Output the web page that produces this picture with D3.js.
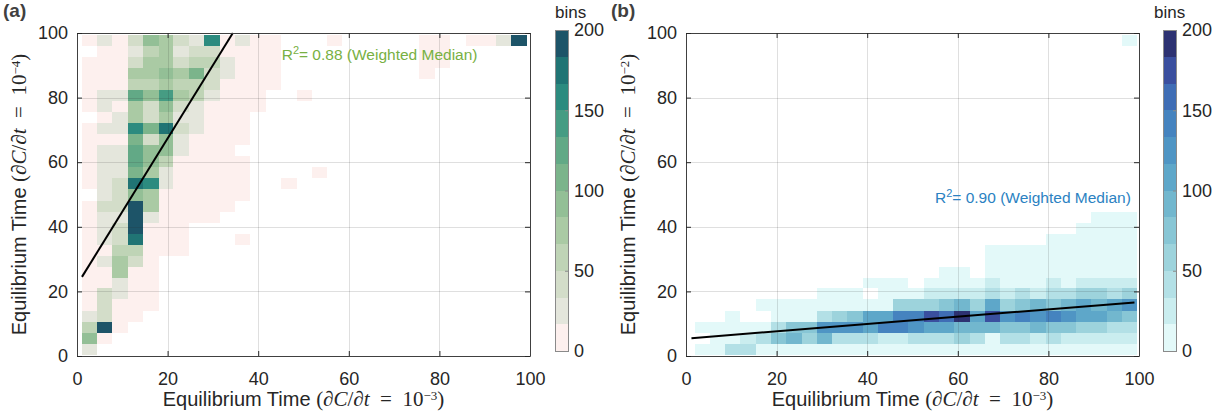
<!DOCTYPE html>
<html>
<head>
<meta charset="utf-8">
<script src="https://cdn.jsdelivr.net/npm/d3@7"></script>
<style>
  body { margin: 0; background: #fff; }
  svg { display: block; font-family: "Liberation Sans", Arial, sans-serif; }
</style>
</head>
<body>
<svg id="chart" width="1224" height="416"></svg>
<script>
// ---------------- data ----------------
const xTicks = [0, 20, 40, 60, 80, 100];
const yTicks = [0, 20, 40, 60, 80, 100];
const cbTicks = [0, 50, 100, 150, 200];

// bin edges (29 bins per axis)
const xEdgesA = [1.0, 4.4, 7.8, 11.2, 14.6, 18.0, 21.3, 24.7, 28.1, 31.5, 34.9, 38.3, 41.7, 45.1, 48.5,
  51.9, 55.2, 58.6, 62.0, 65.4, 68.8, 72.2, 75.6, 79.0, 82.4, 85.8, 89.1, 92.5, 95.9, 99.3];
const xEdgesB = [1.9, 5.3, 8.6, 12.0, 15.4, 18.8, 22.1, 25.5, 28.9, 32.2, 35.6, 39.0, 42.3, 45.7, 49.1,
  52.5, 55.8, 59.2, 62.6, 65.9, 69.3, 72.7, 76.0, 79.4, 82.8, 86.2, 89.5, 92.9, 96.3, 99.6];
const yEdges = [0.4, 3.8, 7.2, 10.6, 14.0, 17.5, 20.9, 24.3, 27.7, 31.1, 34.5, 37.9, 41.3, 44.7, 48.1,
  51.6, 55.0, 58.4, 61.8, 65.2, 68.6, 72.0, 75.4, 78.8, 82.2, 85.7, 89.1, 92.5, 95.9, 99.3];

// counts per bin, rows from the lowest y bin upward, missing trailing bins are empty
const countsA = [
  [27],
  [94, 9],
  [60, 195, 8],
  [26, 42, 10, 7],
  [8, 44, 12, 9, 5],
  [6, 42, 27, 10, 6],
  [7, 10, 26, 9, 5],
  [8, 12, 76, 11, 6],
  [9, 26, 78, 42, 8],
  [8, 13, 60, 58, 10, 6, 4],
  [10, 25, 44, 180, 12, 8, 5, 0, 0, 0, 5],
  [9, 27, 42, 194, 14, 10, 6],
  [11, 26, 28, 192, 27, 13, 8, 5, 4],
  [10, 44, 42, 196, 78, 12, 9, 6, 5, 4],
  [0, 27, 42, 95, 77, 14, 10, 8, 5, 5, 4],
  [9, 28, 44, 178, 162, 26, 13, 9, 6, 5, 4, 0, 0, 5],
  [8, 25, 26, 112, 78, 28, 15, 10, 7, 5, 4, 0, 0, 0, 0, 5],
  [9, 27, 28, 126, 95, 60, 14, 12, 8, 5, 4],
  [10, 26, 25, 128, 96, 92, 26, 14, 9, 6],
  [8, 11, 12, 110, 42, 94, 28, 13, 10, 7, 5],
  [7, 26, 27, 162, 110, 180, 44, 25, 12, 9, 6],
  [0, 12, 28, 76, 40, 80, 26, 24, 10, 8, 5],
  [9, 25, 10, 78, 44, 96, 42, 26, 12, 8, 6, 5],
  [8, 27, 26, 128, 94, 145, 78, 60, 25, 10, 7, 6, 0, 0, 5],
  [6, 10, 8, 60, 62, 80, 58, 60, 40, 12, 8, 6, 4],
  [7, 8, 9, 78, 76, 95, 79, 110, 42, 24, 9, 6, 5, 0, 0, 0, 0, 0, 0, 0, 0, 0, 5],
  [6, 9, 7, 43, 80, 76, 40, 60, 58, 28, 8, 6, 4, 0, 0, 0, 0, 0, 0, 0, 0, 0, 4, 5],
  [0, 8, 6, 26, 62, 78, 25, 44, 46, 10, 7, 5, 4, 0, 0, 0, 0, 0, 0, 0, 0, 0, 5, 6],
  [5, 24, 6, 40, 95, 80, 38, 27, 160, 8, 26, 6, 5, 0, 0, 0, 5, 0, 0, 0, 0, 0, 6, 7, 0, 5, 6, 30, 195]
];

const countsB = [
  [8, 8, 42, 42, 8, 8, 8, 8, 8, 8, 8, 8, 8, 8, 8, 8, 8, 8, 8, 8, 8, 8, 8, 8, 8, 8, 8, 8, 8],
  [0, 6, 8, 25, 42, 75, 92, 58, 92, 42, 42, 42, 25, 25, 42, 42, 42, 58, 42, 8, 42, 42, 25, 42, 25, 25, 25, 25, 25],
  [6, 8, 8, 8, 8, 42, 75, 75, 125, 125, 125, 108, 142, 142, 125, 108, 108, 92, 92, 92, 75, 75, 92, 75, 75, 58, 58, 42, 42],
  [0, 0, 8, 0, 0, 8, 8, 8, 42, 58, 75, 108, 108, 142, 142, 175, 158, 192, 108, 175, 125, 142, 125, 142, 125, 108, 108, 92, 75],
  [0, 0, 0, 0, 8, 8, 8, 8, 8, 8, 8, 8, 8, 58, 58, 58, 75, 92, 58, 108, 58, 75, 92, 75, 92, 108, 92, 108, 125],
  [0, 0, 0, 0, 0, 0, 0, 0, 8, 8, 8, 0, 8, 8, 8, 25, 25, 25, 25, 42, 25, 42, 25, 42, 42, 58, 58, 42, 58],
  [0, 0, 0, 0, 0, 0, 0, 0, 0, 0, 0, 8, 8, 8, 0, 8, 8, 8, 8, 25, 8, 8, 8, 25, 8, 25, 25, 25, 25],
  [0, 0, 0, 0, 0, 0, 0, 0, 0, 0, 0, 0, 0, 0, 0, 0, 8, 8, 0, 8, 8, 8, 8, 8, 8, 8, 8, 8, 8],
  [0, 0, 0, 0, 0, 0, 0, 0, 0, 0, 0, 0, 0, 0, 0, 0, 0, 0, 0, 8, 8, 8, 8, 8, 8, 8, 8, 8, 8],
  [0, 0, 0, 0, 0, 0, 0, 0, 0, 0, 0, 0, 0, 0, 0, 0, 0, 0, 0, 8, 8, 8, 8, 8, 8, 8, 8, 8, 8],
  [0, 0, 0, 0, 0, 0, 0, 0, 0, 0, 0, 0, 0, 0, 0, 0, 0, 0, 0, 0, 0, 0, 0, 8, 8, 8, 8, 8, 8],
  [0, 0, 0, 0, 0, 0, 0, 0, 0, 0, 0, 0, 0, 0, 0, 0, 0, 0, 0, 0, 0, 0, 0, 0, 0, 8, 8, 8, 8],
  [0, 0, 0, 0, 0, 0, 0, 0, 0, 0, 0, 0, 0, 0, 0, 0, 0, 0, 0, 0, 0, 0, 0, 0, 0, 0, 8, 8, 8],
  [], [], [], [], [], [], [], [], [], [], [], [], [], [], [],
  [0, 0, 0, 0, 0, 0, 0, 0, 0, 0, 0, 0, 0, 0, 0, 0, 0, 0, 0, 0, 0, 0, 0, 0, 0, 0, 0, 0, 8]
];

// weighted median fit lines, [x, y] end points
const fitA = [[1.1, 24.5], [34.4, 100]];
const fitB = [[1.2, 5.5], [99.0, 16.6]];

const r2A = "0.88";
const r2B = "0.90";

// 12-step colormaps, low to high
const colorsA = ["#fdf0ee", "#e4e6dc", "#d3ddc9", "#bfd4b6", "#aacaa4", "#93bf96",
  "#7bb48b", "#62a986", "#469c83", "#2c8b7f", "#207474", "#1d5468"];
const colorsB = ["#e3f9f9", "#caedef", "#b3e0e6", "#9dd3dc", "#88c6d5", "#72b7ce",
  "#5ea7c9", "#4f95c4", "#4583bf", "#3f6db5", "#3a4f9f", "#2d3272"];

// ---------------- drawing ----------------
const svg = d3.select("#chart");
const W = 453, H = 323;
const ink = "#262626";

function axisLabel(text, exp) {
  text.append("tspan").text("Equilibrium Time ");
  const m = text.append("tspan")
    .attr("font-family", "'Liberation Serif', 'DejaVu Serif', serif").attr("font-size", 21);
  m.append("tspan").text("(\u2202");
  m.append("tspan").attr("font-style", "italic").text("C");
  m.append("tspan").text("/\u2202");
  m.append("tspan").attr("font-style", "italic").text("t");
  m.append("tspan").text("\u2002=\u200210");
  m.append("tspan").attr("font-size", 13).attr("dy", -6).text(exp);
  m.append("tspan").attr("dy", 6).text(")");
}

function drawPanel(p) {
  const g = svg.append("g").attr("transform", `translate(${p.left},${p.top})`);
  const x = d3.scaleLinear().domain([0, 100]).range([0, W]);
  const y = d3.scaleLinear().domain([0, 100]).range([H, 0]);
  const color = d3.scaleQuantize().domain([0, 200]).range(p.colors);

  const cells = [];
  p.counts.forEach((row, j) => row.forEach((v, i) => { if (v > 0) cells.push({ i, j, v }); }));

  g.append("g").selectAll("rect").data(cells).join("rect")
    .attr("x", d => x(p.xEdges[d.i]))
    .attr("y", d => y(yEdges[d.j + 1]))
    .attr("width", d => x(p.xEdges[d.i + 1]) - x(p.xEdges[d.i]))
    .attr("height", d => y(yEdges[d.j]) - y(yEdges[d.j + 1]))
    .attr("fill", d => color(d.v))
    .attr("shape-rendering", "crispEdges");

  // grid (drawn on top like MATLAB's layer=top)
  const grid = g.append("g").attr("stroke", "rgba(38,38,38,0.15)").attr("stroke-width", 1);
  grid.selectAll("line.gx").data(xTicks.slice(1, -1)).join("line")
    .attr("x1", d => Math.round(x(d)) + 0.5).attr("x2", d => Math.round(x(d)) + 0.5)
    .attr("y1", 0).attr("y2", H);
  grid.selectAll("line.gy").data(yTicks.slice(1, -1)).join("line")
    .attr("y1", d => Math.round(y(d)) + 0.5).attr("y2", d => Math.round(y(d)) + 0.5)
    .attr("x1", 0).attr("x2", W);

  // fit line
  g.append("path").datum(p.fit)
    .attr("d", d3.line().x(d => x(d[0])).y(d => y(d[1])))
    .attr("fill", "none").attr("stroke", "#000").attr("stroke-width", 2);

  // axes with inward ticks on all sides
  const styleAxis = a => {
    a.attr("font-family", null).attr("font-size", 18).attr("color", ink);
    a.select(".domain").attr("stroke", "#404040");
  };
  g.append("g").attr("transform", `translate(0,${H})`)
    .call(d3.axisBottom(x).tickValues(xTicks).tickSize(-5).tickSizeOuter(0).tickPadding(16))
    .call(styleAxis);
  g.append("g")
    .call(d3.axisTop(x).tickValues(xTicks).tickSize(-5).tickSizeOuter(0).tickFormat(""))
    .call(styleAxis);
  g.append("g")
    .call(d3.axisLeft(y).tickValues(yTicks).tickSize(-5).tickSizeOuter(0).tickPadding(9))
    .call(styleAxis);
  g.append("g").attr("transform", `translate(${W},0)`)
    .call(d3.axisRight(y).tickValues(yTicks).tickSize(-5).tickSizeOuter(0).tickFormat(""))
    .call(styleAxis);

  // R^2 annotation
  const t = g.append("text")
    .attr("x", p.r2x).attr("y", p.r2y)
    .attr("font-size", 15.5).attr("fill", p.r2color);
  t.append("tspan").text("R");
  t.append("tspan").attr("font-size", 11).attr("dy", -6).text("2");
  t.append("tspan").attr("dy", 6).text(`= ${p.r2} (Weighted Median)`);

  // axis titles
  g.append("text")
    .attr("x", W / 2).attr("y", H + 50)
    .attr("text-anchor", "middle").attr("font-size", 20).attr("fill", ink)
    .call(axisLabel, "\u22123");
  g.append("text")
    .attr("transform", `translate(-51,${H / 2}) rotate(-90)`)
    .attr("text-anchor", "middle").attr("font-size", 20).attr("fill", ink)
    .call(axisLabel, p.yExp);

  // panel letter
  svg.append("text")
    .attr("x", p.letterX).attr("y", 17)
    .attr("font-size", 19).attr("font-weight", "bold").attr("fill", "#404040")
    .text(p.letter);
}

function drawColorbar(c) {
  const g = svg.append("g").attr("transform", `translate(${c.x},0)`);
  const yc = d3.scaleLinear().domain([0, 200]).range([c.bottom, c.top]);
  const step = 200 / c.colors.length;
  g.selectAll("rect.band").data(c.colors).join("rect")
    .attr("x", 0).attr("width", 13)
    .attr("y", (d, i) => yc((i + 1) * step))
    .attr("height", (d, i) => yc(i * step) - yc((i + 1) * step))
    .attr("fill", d => d)
    .attr("shape-rendering", "crispEdges");
  g.append("rect")
    .attr("x", 0.5).attr("y", c.top + 0.5).attr("width", 13).attr("height", c.bottom - c.top)
    .attr("fill", "none").attr("stroke", "#8a8a8a");
  g.append("g").attr("transform", "translate(13,0)")
    .call(d3.axisRight(yc).tickValues(cbTicks).tickSize(-3).tickSizeOuter(0).tickPadding(6))
    .call(a => {
      a.attr("font-family", null).attr("font-size", 18).attr("color", ink);
      a.select(".domain").remove();
      a.selectAll(".tick line").attr("stroke", "#8a8a8a");
    });
  g.append("text").attr("x", c.labelX).attr("y", 18)
    .attr("font-size", 17).attr("fill", ink).text("bins");
}

drawPanel({
  left: 77, top: 33, counts: countsA, xEdges: xEdgesA, colors: colorsA, fit: fitA,
  r2: r2A, r2x: 204.7, r2y: 27, r2color: "#78b043", yExp: "\u22124", letter: "(a)", letterX: 3
});
drawPanel({
  left: 686, top: 33, counts: countsB, xEdges: xEdgesB, colors: colorsB, fit: fitB,
  r2: r2B, r2x: 249, r2y: 170, r2color: "#2b82c2", yExp: "\u22122", letter: "(b)", letterX: 611
});
drawColorbar({ x: 555, top: 30, bottom: 351, colors: colorsA, labelX: 0 });
drawColorbar({ x: 1163, top: 30, bottom: 351, colors: colorsB, labelX: -9 });
</script>
</body>
</html>
